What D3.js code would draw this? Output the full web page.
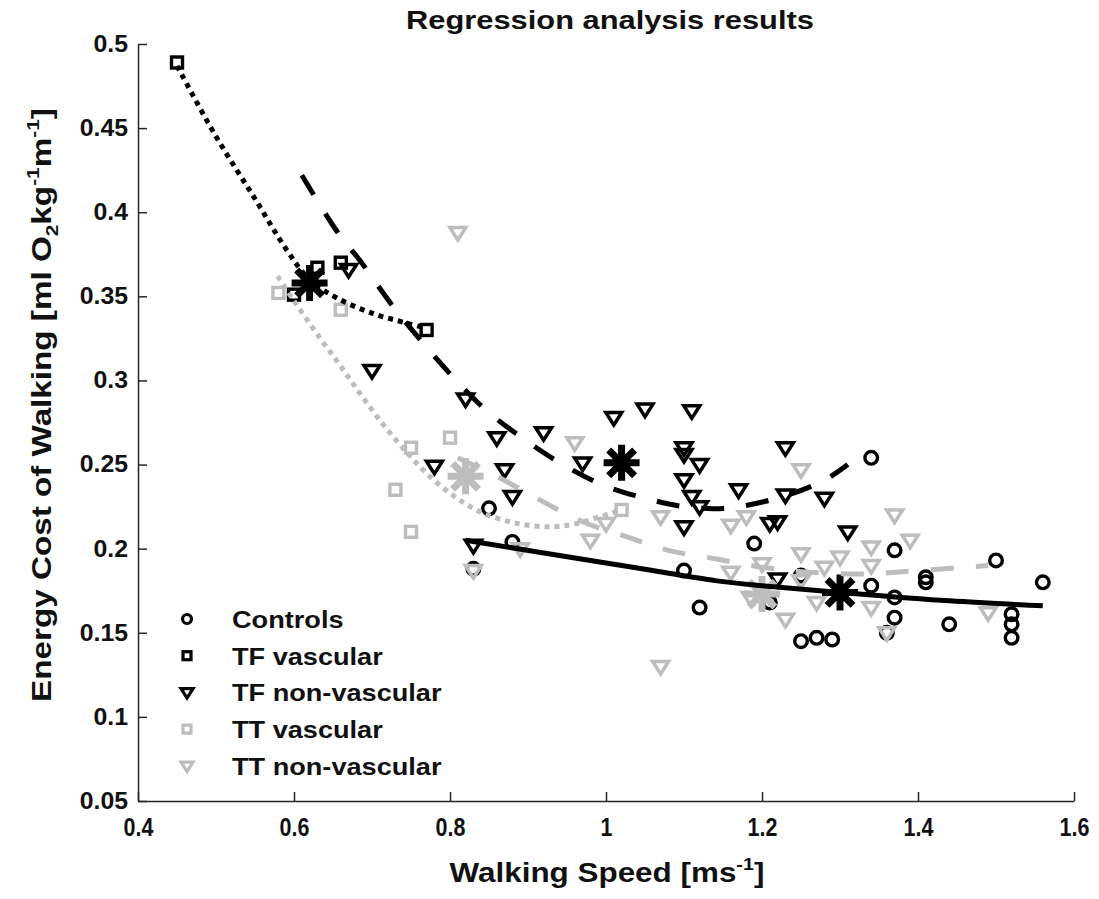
<!DOCTYPE html>
<html>
<head>
<meta charset="utf-8">
<script src="https://cdn.jsdelivr.net/npm/d3@7"></script>
<style>
  body { margin: 0; background: #fff; }
  text { font-family: "Liberation Sans", Arial, sans-serif; font-weight: bold; fill: #111; }
</style>
</head>
<body>
<svg id="chart" width="1099" height="899"></svg>
<script>
// valeurs (vitesse m/s, cout energetique)
const controls = [[0.83,0.188],[0.85,0.224],[0.88,0.204],[1.10,0.187],[1.12,0.165],[1.19,0.203],[1.21,0.168],
  [1.25,0.184],[1.25,0.145],[1.27,0.147],[1.29,0.146],[1.34,0.254],[1.34,0.178],[1.36,0.150],[1.37,0.199],
  [1.37,0.171],[1.37,0.159],[1.41,0.183],[1.41,0.180],[1.44,0.155],[1.50,0.193],[1.52,0.161],[1.52,0.155],
  [1.52,0.147],[1.56,0.180]];
const tfVascular = [[0.45,0.489],[0.60,0.351],[0.63,0.367],[0.66,0.370],[0.77,0.330]];
const tfNonVascular = [[0.67,0.366],[0.70,0.306],[0.78,0.249],[0.82,0.289],[0.83,0.202],[0.86,0.266],[0.87,0.247],
  [0.88,0.231],[0.92,0.269],[0.97,0.251],[1.01,0.278],[1.05,0.283],[1.10,0.260],[1.10,0.256],[1.10,0.241],
  [1.10,0.213],[1.11,0.231],[1.11,0.282],[1.12,0.250],[1.12,0.225],[1.17,0.235],[1.21,0.215],[1.22,0.216],
  [1.22,0.182],[1.23,0.260],[1.23,0.232],[1.28,0.230],[1.31,0.210]];
const ttVascular = [[0.58,0.352],[0.66,0.342],[0.73,0.235],[0.75,0.260],[0.75,0.210],[0.80,0.266],[1.02,0.223]];
const ttNonVascular = [[0.81,0.388],[0.83,0.187],[0.89,0.200],[0.96,0.263],[0.98,0.205],[1.00,0.215],[1.07,0.219],
  [1.07,0.130],[1.16,0.214],[1.16,0.186],[1.18,0.219],[1.185,0.171],[1.20,0.191],[1.23,0.158],[1.25,0.247],
  [1.25,0.197],[1.25,0.181],[1.27,0.168],[1.28,0.189],[1.30,0.195],[1.34,0.201],[1.34,0.190],[1.34,0.165],
  [1.36,0.150],[1.37,0.220],[1.39,0.205],[1.49,0.162]];

// moyennes de groupe (asterisques)
const groupMeans = [
  {x: 1.30, y: 0.174, grey: false},
  {x: 0.62, y: 0.358, grey: false},
  {x: 1.02, y: 0.251, grey: false},
  {x: 0.82, y: 0.243, grey: true},
  {x: 1.20, y: 0.173, grey: true}
];

// courbes de regression
const controlsFit = [[0.82,0.205],[0.98,0.193],[1.06,0.187],[1.14,0.181],[1.20,0.178],[1.30,0.174],[1.44,0.169],[1.56,0.166]];
const tfVascularFit = [[0.45,0.487],[0.50,0.445],[0.55,0.408],[0.59,0.378],[0.62,0.360],[0.655,0.349],[0.70,0.340],[0.745,0.334],[0.77,0.331]];
const tfNonVascularFit = [[0.61,0.422],[0.656,0.388],[0.685,0.371],[0.727,0.344],[0.764,0.323],[0.804,0.302],[0.847,0.282],
  [0.892,0.266],[0.941,0.251],[0.995,0.238],[1.05,0.230],[1.10,0.225],[1.153,0.224],[1.227,0.231],[1.281,0.241],[1.31,0.250]];
const ttVascularFit = [[0.579,0.362],[0.599,0.348],[0.629,0.328],[0.659,0.309],[0.685,0.292],[0.714,0.274],[0.745,0.257],
  [0.774,0.243],[0.809,0.230],[0.843,0.221],[0.886,0.215],[0.928,0.213],[0.963,0.215],[0.992,0.219],[1.02,0.223]];
const ttNonVascularFit = [[0.81,0.254],[0.864,0.242],[0.915,0.229],[0.97,0.216],[1.027,0.207],[1.08,0.199],[1.14,0.194],
  [1.20,0.189],[1.26,0.186],[1.33,0.185],[1.40,0.187],[1.49,0.190]];

const xTicks = [0.4, 0.6, 0.8, 1, 1.2, 1.4, 1.6];
const yTicks = [0.05, 0.1, 0.15, 0.2, 0.25, 0.3, 0.35, 0.4, 0.45, 0.5];
const legendLabels = ["Controls", "TF vascular", "TF non-vascular", "TT vascular", "TT non-vascular"];

var BLACK = "#000";
var GREY = "#bdbdbd";

var svg = d3.select("#chart");

var x = d3.scaleLinear().domain([0.4, 1.6]).range([138, 1074]);
var y = d3.scaleLinear().domain([0.05, 0.5]).range([801, 44]);

// etire un texte horizontalement (facteur s) autour du point (ax, ay)
function scaleX(node, ax, ay, s) {
  d3.select(node).attr("transform", "translate(" + ax + "," + ay + ") scale(" + s + ",1) translate(" + (-ax) + "," + (-ay) + ")");
}
function stretch(node, ax, ay, w) {
  scaleX(node, ax, ay, w / node.getBBox().width);
}

// axes
var xAxis = svg.append("g").attr("transform", "translate(0,801)")
  .call(d3.axisBottom(x).tickValues(xTicks).tickFormat(function (d) { return String(d); })
    .tickSizeInner(-9).tickSizeOuter(0).tickPadding(17));
var yAxis = svg.append("g").attr("transform", "translate(138,0)")
  .call(d3.axisLeft(y).tickValues(yTicks).tickFormat(function (d) { return String(d); })
    .tickSizeInner(-9).tickSizeOuter(0).tickPadding(10));

[xAxis, yAxis].forEach(function (a) {
  a.attr("font-size", null).attr("font-family", null);
  a.select(".domain").attr("stroke", "#262626").attr("stroke-width", 1.5);
  a.selectAll(".tick line").attr("stroke", "#262626").attr("stroke-width", 1.5);
  a.selectAll(".tick text").style("font-family", "'Liberation Sans', Arial, sans-serif")
    .style("font-weight", "bold").attr("fill", "#111");
});
xAxis.selectAll(".tick text").style("font-size", "25px").attr("dy", "0.71em")
  .each(function () { scaleX(this, 0, 0, 0.86); });
yAxis.selectAll(".tick text").style("font-size", "23px")
  .each(function () { scaleX(this, +d3.select(this).attr("x"), 0, 1.08); });

// marqueurs
function triPath(h) {
  return "M" + (-h) + "," + (-h * 0.62) + "L" + h + "," + (-h * 0.62) + "L0," + (h * 0.95) + "Z";
}

function drawCircles(data, col) {
  svg.append("g").selectAll("circle").data(data).enter().append("circle")
    .attr("cx", function (d) { return x(d[0]); })
    .attr("cy", function (d) { return y(d[1]); })
    .attr("r", 6.3).attr("fill", "none").attr("stroke", col).attr("stroke-width", 3.4);
}

function drawSquares(data, col) {
  svg.append("g").selectAll("rect").data(data).enter().append("rect")
    .attr("x", function (d) { return x(d[0]) - 5.5; })
    .attr("y", function (d) { return y(d[1]) - 5.5; })
    .attr("width", 11).attr("height", 11)
    .attr("fill", "none").attr("stroke", col).attr("stroke-width", 3.4);
}

function drawTriangles(data, col) {
  svg.append("g").selectAll("path").data(data).enter().append("path")
    .attr("transform", function (d) { return "translate(" + x(d[0]) + "," + y(d[1]) + ")"; })
    .attr("d", triPath(8))
    .attr("fill", "none").attr("stroke", col).attr("stroke-width", 3.5).attr("stroke-linejoin", "miter");
}

drawCircles(controls, BLACK);
drawSquares(tfVascular, BLACK);
drawTriangles(tfNonVascular, BLACK);
drawSquares(ttVascular, GREY);
drawTriangles(ttNonVascular, GREY);

// asterisques des moyennes
var starArm = 18;
var starPath = "M0," + (-starArm) + "V" + starArm + "M" + (-starArm) + ",0H" + starArm +
  "M" + (-starArm * 0.72) + "," + (-starArm * 0.72) + "L" + (starArm * 0.72) + "," + (starArm * 0.72) +
  "M" + (-starArm * 0.72) + "," + (starArm * 0.72) + "L" + (starArm * 0.72) + "," + (-starArm * 0.72);
svg.append("g").selectAll("path").data(groupMeans).enter().append("path")
  .attr("transform", function (d) { return "translate(" + x(d.x) + "," + y(d.y) + ")"; })
  .attr("d", starPath)
  .attr("fill", "none")
  .attr("stroke", function (d) { return d.grey ? GREY : BLACK; })
  .attr("stroke-width", 7);

// courbes
var line = d3.line().x(function (d) { return x(d[0]); }).y(function (d) { return y(d[1]); })
  .curve(d3.curveCatmullRom);

function drawFit(data, col, dash) {
  svg.append("path").datum(data).attr("d", line)
    .attr("fill", "none").attr("stroke", col).attr("stroke-width", 5)
    .attr("stroke-dasharray", dash);
}

drawFit(ttVascularFit, GREY, "5,5");
drawFit(ttNonVascularFit, GREY, "23,22");
drawFit(tfVascularFit, BLACK, "5,5");
drawFit(tfNonVascularFit, BLACK, "23,22");
drawFit(controlsFit, BLACK, null);

// legende
var legendRows = [
  {shape: "circle", col: BLACK},
  {shape: "square", col: BLACK},
  {shape: "tri", col: BLACK},
  {shape: "square", col: GREY},
  {shape: "tri", col: GREY}
];
var legend = svg.append("g");
legendLabels.forEach(function (lab, i) {
  var base = 628 + i * 36.7;
  var mx = 187, my = base - 9;
  var r = legendRows[i];
  if (r.shape === "circle") {
    legend.append("circle").attr("cx", mx).attr("cy", my).attr("r", 4.5)
      .attr("fill", "none").attr("stroke", r.col).attr("stroke-width", 3.2);
  } else if (r.shape === "square") {
    legend.append("rect").attr("x", mx - 4).attr("y", my - 4).attr("width", 8).attr("height", 8)
      .attr("fill", "none").attr("stroke", r.col).attr("stroke-width", 3.2);
  } else {
    legend.append("path").attr("transform", "translate(" + mx + "," + my + ")").attr("d", triPath(6))
      .attr("fill", "none").attr("stroke", r.col).attr("stroke-width", 3.2);
  }
  var t = legend.append("text").attr("x", 232).attr("y", base).attr("font-size", 23).text(lab);
  scaleX(t.node(), 232, base, 1.18);
});

// titre
var title = svg.append("text").attr("x", 610).attr("y", 29).attr("text-anchor", "middle")
  .attr("font-size", 25).text("Regression analysis results");
stretch(title.node(), 610, 29, 408);

// titres des axes
var xl = svg.append("text").attr("x", 607).attr("y", 882).attr("text-anchor", "middle").attr("font-size", 27);
xl.append("tspan").text("Walking Speed [ms");
xl.append("tspan").attr("font-size", 17).attr("dy", -12).text("-1");
xl.append("tspan").attr("dy", 12).text("]");
stretch(xl.node(), 607, 882, 315);

var yl = svg.append("g").attr("transform", "translate(51,405) rotate(-90)");
var ylt = yl.append("text").attr("x", 0).attr("y", 0).attr("text-anchor", "middle").attr("font-size", 27);
ylt.append("tspan").text("Energy Cost of Walking [ml O");
ylt.append("tspan").attr("font-size", 17).attr("dy", 7).text("2");
ylt.append("tspan").attr("dy", -7).text("kg");
ylt.append("tspan").attr("font-size", 17).attr("dy", -12).text("-1");
ylt.append("tspan").attr("dy", 12).text("m");
ylt.append("tspan").attr("font-size", 17).attr("dy", -12).text("-1");
ylt.append("tspan").attr("dy", 12).text("]");
stretch(ylt.node(), 0, 0, 594);
</script>
</body>
</html>
